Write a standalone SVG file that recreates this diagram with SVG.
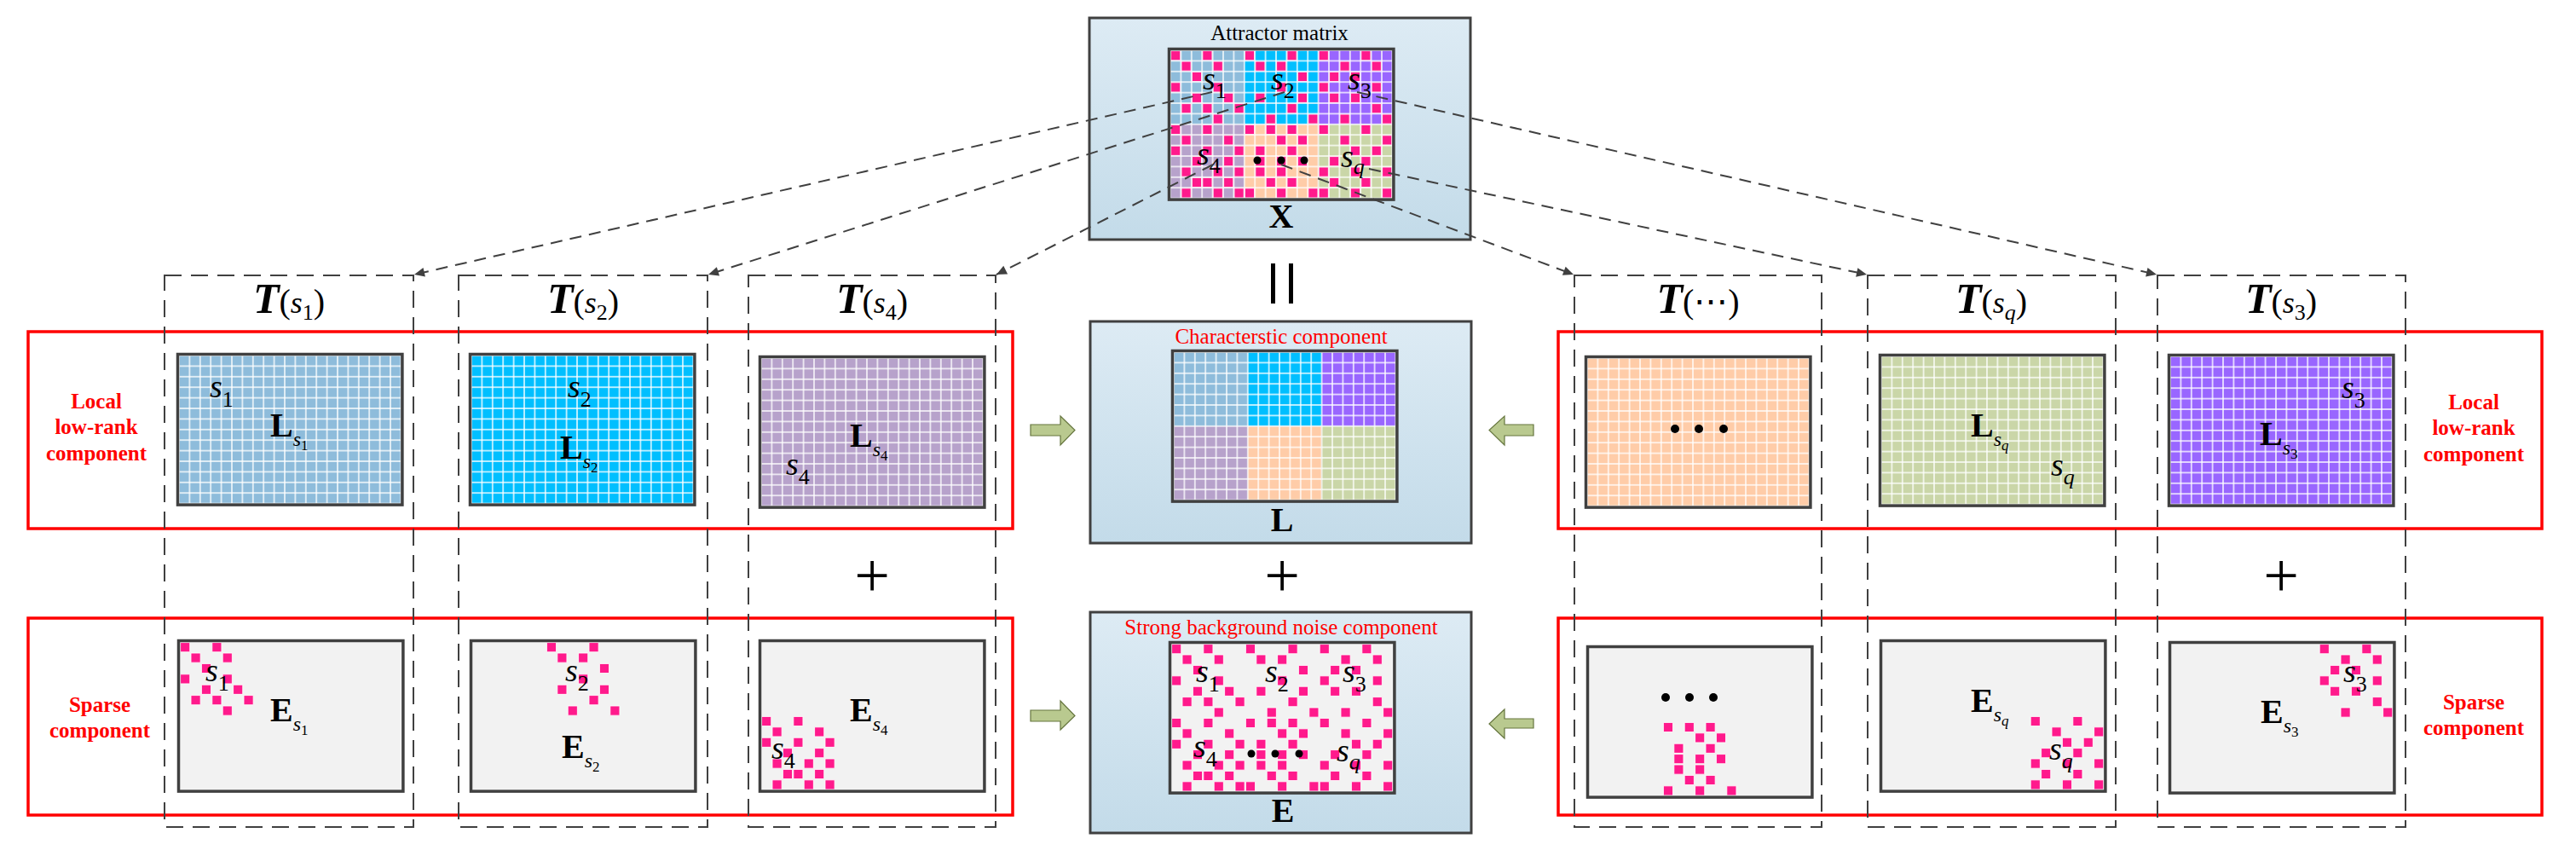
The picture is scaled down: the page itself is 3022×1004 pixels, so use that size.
<svg xmlns="http://www.w3.org/2000/svg" width="3022" height="1004" viewBox="0 0 3022 1004">
<style>
.t{font-family:"Liberation Serif","Times New Roman","DejaVu Serif",serif;fill:#000}
.sv{font-style:italic;font-size:38px}
.sd{font-style:normal;font-size:26px}
.sq{font-style:italic;font-size:26px}
.bm{font-weight:bold;font-size:40px}
.bs{font-style:italic;font-weight:normal;font-size:24px}
.bd{font-style:normal;font-weight:normal;font-size:17px}
.bq{font-style:italic;font-weight:normal;font-size:17px}
.tt{font-size:40px;text-anchor:middle}
.tT{font-style:italic;font-weight:bold;font-size:50px}
.ts{font-style:italic;font-size:36px}
.tsd{font-style:normal;font-size:26px}
.tsq{font-style:italic;font-size:26px}
.rl{fill:#f00;font-weight:bold;font-size:25px;text-anchor:middle}
.ttl{fill:#f00;font-size:25px;text-anchor:middle}
.ttk{font-size:25px;text-anchor:middle}
.pl{font-size:74px;text-anchor:middle}
.panel{fill:url(#bg);stroke:#404040;stroke-width:3}
.fr{fill:none;stroke:#404040;stroke-width:3.5}
.eg{fill:#f2f2f2}
.m{fill:#ff1a8c;stroke:#fff;stroke-width:.07}
.db{fill:none;stroke:#404040;stroke-width:2;stroke-dasharray:20 11}
.rb{fill:none;stroke:#f00;stroke-width:3.5}
.ba{fill:#b9c98f;stroke:#66763f;stroke-width:1.2}
.dot{fill:#000}
</style>
<defs>
<linearGradient id="bg" x1="0" y1="0" x2="0" y2="1"><stop offset="0" stop-color="#ddebf4"/><stop offset="1" stop-color="#c3dbe9"/></linearGradient>
<pattern id="pB" width="12.4" height="12.4" patternUnits="userSpaceOnUse"><rect width="12.4" height="12.4" fill="#fff"/><rect x=".7" y=".7" width="11" height="11" fill="#8ebcdb"/></pattern>
<pattern id="pC" width="12.4" height="12.4" patternUnits="userSpaceOnUse"><rect width="12.4" height="12.4" fill="#fff"/><rect x=".7" y=".7" width="11" height="11" fill="#00bfff"/></pattern>
<pattern id="pP" width="12.4" height="12.4" patternUnits="userSpaceOnUse"><rect width="12.4" height="12.4" fill="#fff"/><rect x=".7" y=".7" width="11" height="11" fill="#9966ff"/></pattern>
<pattern id="pL" width="12.4" height="12.4" patternUnits="userSpaceOnUse"><rect width="12.4" height="12.4" fill="#fff"/><rect x=".7" y=".7" width="11" height="11" fill="#b7a2cb"/></pattern>
<pattern id="pO" width="12.4" height="12.4" patternUnits="userSpaceOnUse"><rect width="12.4" height="12.4" fill="#fff"/><rect x=".7" y=".7" width="11" height="11" fill="#ffcca8"/></pattern>
<pattern id="pG" width="12.4" height="12.4" patternUnits="userSpaceOnUse"><rect width="12.4" height="12.4" fill="#fff"/><rect x=".7" y=".7" width="11" height="11" fill="#cad6a8"/></pattern>
<g id="blocks">
<rect x="0" y="0" width="86.8" height="86.8" fill="url(#pB)"/>
<rect x="86.8" y="0" width="86.8" height="86.8" fill="url(#pC)"/>
<rect x="173.6" y="0" width="86.8" height="86.8" fill="url(#pP)"/>
<rect x="0" y="86.8" width="86.8" height="86.8" fill="url(#pL)"/>
<rect x="86.8" y="86.8" width="86.8" height="86.8" fill="url(#pO)"/>
<rect x="173.6" y="86.8" width="86.8" height="86.8" fill="url(#pG)"/>
</g>
<path id="n1" d="M0 0h.9v.9h-.9zM3 0h.9v.9h-.9zM1 1h.9v.9h-.9zM4 1h.9v.9h-.9zM2 2h.9v.9h-.9zM0 3h.9v.9h-.9zM4 3h.9v.9h-.9zM2 4h.9v.9h-.9zM5 4h.9v.9h-.9zM1 5h.9v.9h-.9zM3 5h.9v.9h-.9zM6 5h.9v.9h-.9zM4 6h.9v.9h-.9z"/>
<path id="n2" d="M7 0h.9v.9h-.9zM11 0h.9v.9h-.9zM8 1h.9v.9h-.9zM10 1h.9v.9h-.9zM12 2h.9v.9h-.9zM10 3h.9v.9h-.9zM8 4h.9v.9h-.9zM12 4h.9v.9h-.9zM11 5h.9v.9h-.9zM9 6h.9v.9h-.9zM13 6h.9v.9h-.9z"/>
<path id="n3" d="M14 0h.9v.9h-.9zM18 0h.9v.9h-.9zM16 1h.9v.9h-.9zM19 1h.9v.9h-.9zM15 2h.9v.9h-.9zM17 2h.9v.9h-.9zM14 3h.9v.9h-.9zM19 3h.9v.9h-.9zM15 4h.9v.9h-.9zM17 4h.9v.9h-.9zM19 5h.9v.9h-.9zM16 6h.9v.9h-.9zM20 6h.9v.9h-.9z"/>
<path id="n4" d="M0 7h.9v.9h-.9zM3 7h.9v.9h-.9zM1 8h.9v.9h-.9zM5 8h.9v.9h-.9zM0 9h.9v.9h-.9zM3 9h.9v.9h-.9zM6 9h.9v.9h-.9zM2 10h.9v.9h-.9zM5 10h.9v.9h-.9zM1 11h.9v.9h-.9zM4 11h.9v.9h-.9zM6 11h.9v.9h-.9zM2 12h.9v.9h-.9zM3 12h.9v.9h-.9zM5 12h.9v.9h-.9zM1 13h.9v.9h-.9zM4 13h.9v.9h-.9zM6 13h.9v.9h-.9z"/>
<path id="n5" d="M7 7h.9v.9h-.9zM9 7h.9v.9h-.9zM11 7h.9v.9h-.9zM10 8h.9v.9h-.9zM12 8h.9v.9h-.9zM8 9h.9v.9h-.9zM11 9h.9v.9h-.9zM8 10h.9v.9h-.9zM10 10h.9v.9h-.9zM12 10h.9v.9h-.9zM8 11h.9v.9h-.9zM10 11h.9v.9h-.9zM9 12h.9v.9h-.9zM11 12h.9v.9h-.9zM7 13h.9v.9h-.9zM10 13h.9v.9h-.9zM13 13h.9v.9h-.9z"/>
<path id="n6" d="M14 7h.9v.9h-.9zM18 7h.9v.9h-.9zM16 8h.9v.9h-.9zM20 8h.9v.9h-.9zM17 9h.9v.9h-.9zM19 9h.9v.9h-.9zM15 10h.9v.9h-.9zM18 10h.9v.9h-.9zM14 11h.9v.9h-.9zM17 11h.9v.9h-.9zM20 11h.9v.9h-.9zM15 12h.9v.9h-.9zM18 12h.9v.9h-.9zM14 13h.9v.9h-.9zM17 13h.9v.9h-.9zM20 13h.9v.9h-.9z"/>
<g id="nall"><use href="#n1"/><use href="#n2"/><use href="#n3"/><use href="#n4"/><use href="#n5"/><use href="#n6"/></g>
<rect id="frame" class="fr" x="-1.5" y="-1.5" width="263.4" height="176.6"/>
<marker id="ah" viewBox="0 0 10 10" refX="10" refY="5" markerWidth="14" markerHeight="12" markerUnits="userSpaceOnUse" orient="auto"><path d="M0 0.5L10 5L0 9.5z" fill="#404040"/></marker>
</defs>
<rect width="3022" height="1004" fill="#fff"/>

<!-- red component frames -->
<g id="red-frames">
<rect class="rb" x="33" y="389" width="1155" height="231"/>
<rect class="rb" x="33" y="725" width="1155" height="231"/>
<rect class="rb" x="1828" y="389" width="1154" height="231"/>
<rect class="rb" x="1828" y="725" width="1154" height="231"/>
<text class="t rl"><tspan x="113" y="479">Local</tspan><tspan x="113" y="509">low-rank</tspan><tspan x="113" y="540">component</tspan></text>
<text class="t rl"><tspan x="2902" y="480">Local</tspan><tspan x="2902" y="510">low-rank</tspan><tspan x="2902" y="541">component</tspan></text>
<text class="t rl"><tspan x="117" y="835">Sparse</tspan><tspan x="117" y="865">component</tspan></text>
<text class="t rl"><tspan x="2902" y="832">Sparse</tspan><tspan x="2902" y="862">component</tspan></text>
</g>

<!-- T(s) columns -->
<g id="T-s1"><rect class="db" x="193" y="323" width="292" height="647"/>
<text class="t tt" x="339" y="367"><tspan class="tT">T</tspan>(<tspan class="ts">s</tspan><tspan class="tsd" dy="8">1</tspan><tspan dy="-8">)</tspan></text></g>
<g id="T-s2"><rect class="db" x="538" y="323" width="292" height="647"/>
<text class="t tt" x="684" y="367"><tspan class="tT">T</tspan>(<tspan class="ts">s</tspan><tspan class="tsd" dy="8">2</tspan><tspan dy="-8">)</tspan></text></g>
<g id="T-s4"><rect class="db" x="878" y="323" width="290" height="647"/>
<text class="t tt" x="1023" y="367"><tspan class="tT">T</tspan>(<tspan class="ts">s</tspan><tspan class="tsd" dy="8">4</tspan><tspan dy="-8">)</tspan></text></g>
<g id="T-dots"><rect class="db" x="1847" y="323" width="290" height="647"/>
<text class="t tt" x="1992" y="367"><tspan class="tT">T</tspan>(⋯)</text></g>
<g id="T-sq"><rect class="db" x="2191" y="323" width="291" height="647"/>
<text class="t tt" x="2336" y="367"><tspan class="tT">T</tspan>(<tspan class="ts">s</tspan><tspan class="tsq" dy="8">q</tspan><tspan dy="-8">)</tspan></text></g>
<g id="T-s3"><rect class="db" x="2531" y="323" width="291" height="647"/>
<text class="t tt" x="2676" y="367"><tspan class="tT">T</tspan>(<tspan class="ts">s</tspan><tspan class="tsd" dy="8">3</tspan><tspan dy="-8">)</tspan></text></g>

<!-- middle panels -->
<g id="X-panel">
<rect class="panel" x="1278" y="21" width="447" height="260"/>
<text class="t ttk" x="1501" y="47">Attractor matrix</text>
<g transform="translate(1373 59)"><use href="#blocks"/><g class="m" transform="translate(.6 .6) scale(12.4)"><use href="#nall"/></g><use href="#frame"/></g>
<text class="t sv" x="1411" y="105">s<tspan class="sd" dy="10">1</tspan></text>
<text class="t sv" x="1491" y="105">s<tspan class="sd" dy="10">2</tspan></text>
<text class="t sv" x="1581" y="105">s<tspan class="sd" dy="10">3</tspan></text>
<text class="t sv" x="1404" y="193">s<tspan class="sd" dy="10">4</tspan></text>
<text class="t sv" x="1573" y="196">s<tspan class="sq" dy="8">q</tspan></text>
<circle class="dot" cx="1475" cy="188" r="4.5"/><circle class="dot" cx="1503" cy="188" r="4.5"/><circle class="dot" cx="1530" cy="188" r="4.5"/>
<text class="t bm" x="1503" y="267" text-anchor="middle">X</text>
</g>

<g id="equals"><rect x="1491" y="309" width="5" height="47" fill="#000"/><rect x="1512" y="309" width="5" height="47" fill="#000"/></g>

<g id="L-panel">
<rect class="panel" x="1279" y="377" width="447" height="260"/>
<text class="t ttl" x="1503" y="403">Characterstic component</text>
<g transform="translate(1377 413)"><use href="#blocks"/><use href="#frame"/></g>
<text class="t bm" x="1504" y="623" text-anchor="middle">L</text>
</g>

<g id="E-panel">
<rect class="panel" x="1279" y="718" width="447" height="259"/>
<text class="t ttl" x="1503" y="744">Strong background noise component</text>
<g transform="translate(1374 755)"><rect class="eg" width="260.4" height="173.6"/><g class="m" transform="translate(.6 .6) scale(12.4)"><use href="#nall"/></g><use href="#frame"/></g>
<text class="t sv" x="1403" y="800">s<tspan class="sd" dy="11">1</tspan></text>
<text class="t sv" x="1484" y="800">s<tspan class="sd" dy="11">2</tspan></text>
<text class="t sv" x="1575" y="800">s<tspan class="sd" dy="11">3</tspan></text>
<text class="t sv" x="1400" y="888">s<tspan class="sd" dy="11">4</tspan></text>
<text class="t sv" x="1568" y="893">s<tspan class="sq" dy="9">q</tspan></text>
<circle class="dot" cx="1468" cy="884" r="4.5"/><circle class="dot" cx="1496" cy="884" r="4.5"/><circle class="dot" cx="1524" cy="884" r="4.5"/>
<text class="t bm" x="1505" y="964" text-anchor="middle">E</text>
</g>

<g id="plus-signs">
<text class="t pl" x="1023" y="700">+</text>
<text class="t pl" x="1504" y="700">+</text>
<text class="t pl" x="2676" y="700">+</text>
</g>

<g id="block-arrows">
<polygon class="ba" points="1209,498 1244,498 1244,488 1261,504.5 1244,522 1244,511 1209,511"/>
<polygon class="ba" points="1799,498 1765,498 1765,488 1747,504.5 1765,522 1765,511 1799,511"/>
<polygon class="ba" points="1209,833 1244,833 1244,822 1261,839.5 1244,856 1244,846 1209,846"/>
<polygon class="ba" points="1799,843 1765,843 1765,832 1747,849 1765,866 1765,854 1799,854"/>
</g>

<!-- local low-rank matrices -->
<g id="L-s1"><g transform="translate(210 417)"><rect width="260.4" height="173.6" fill="url(#pB)"/><use href="#frame"/></g>
<text class="t sv" x="246" y="466">s<tspan class="sd" dy="11">1</tspan></text>
<text class="t bm" x="317" y="512">L<tspan class="bs" dy="11">s</tspan><tspan class="bd" dy="5">1</tspan></text></g>
<g id="L-s2"><g transform="translate(553 417)"><rect width="260.4" height="173.6" fill="url(#pC)"/><use href="#frame"/></g>
<text class="t sv" x="666" y="466">s<tspan class="sd" dy="11">2</tspan></text>
<text class="t bm" x="657" y="538">L<tspan class="bs" dy="11">s</tspan><tspan class="bd" dy="5">2</tspan></text></g>
<g id="L-s4"><g transform="translate(893 420)"><rect width="260.4" height="173.6" fill="url(#pL)"/><use href="#frame"/></g>
<text class="t sv" x="922" y="557">s<tspan class="sd" dy="11">4</tspan></text>
<text class="t bm" x="997" y="524">L<tspan class="bs" dy="11">s</tspan><tspan class="bd" dy="5">4</tspan></text></g>
<g id="L-dots"><g transform="translate(1862 420)"><rect width="260.4" height="173.6" fill="url(#pO)"/><use href="#frame"/></g>
<circle class="dot" cx="1965" cy="503" r="5"/><circle class="dot" cx="1993" cy="503" r="5"/><circle class="dot" cx="2022" cy="503" r="5"/></g>
<g id="L-sq"><g transform="translate(2207 418)"><rect width="260.4" height="173.6" fill="url(#pG)"/><use href="#frame"/></g>
<text class="t sv" x="2406" y="558">s<tspan class="sq" dy="10">q</tspan></text>
<text class="t bm" x="2312" y="512">L<tspan class="bs" dy="11">s</tspan><tspan class="bq" dy="5">q</tspan></text></g>
<g id="L-s3"><g transform="translate(2546 418)"><rect width="260.4" height="173.6" fill="url(#pP)"/><use href="#frame"/></g>
<text class="t sv" x="2747" y="467">s<tspan class="sd" dy="11">3</tspan></text>
<text class="t bm" x="2651" y="522">L<tspan class="bs" dy="11">s</tspan><tspan class="bd" dy="5">3</tspan></text></g>

<!-- sparse matrices -->
<g id="E-s1"><g transform="translate(211 753)"><rect class="eg" width="260.4" height="173.6"/><g class="m" transform="translate(.6 .6) scale(12.4)"><use href="#n1"/></g><use href="#frame"/></g>
<text class="t sv" x="241" y="799">s<tspan class="sd" dy="11">1</tspan></text>
<text class="t bm" x="317" y="846">E<tspan class="bs" dy="11">s</tspan><tspan class="bd" dy="5">1</tspan></text></g>
<g id="E-s2"><g transform="translate(554 753)"><rect class="eg" width="260.4" height="173.6"/><g class="m" transform="translate(.6 .6) scale(12.4)"><use href="#n2"/></g><use href="#frame"/></g>
<text class="t sv" x="663" y="799">s<tspan class="sd" dy="11">2</tspan></text>
<text class="t bm" x="659" y="889">E<tspan class="bs" dy="11">s</tspan><tspan class="bd" dy="5">2</tspan></text></g>
<g id="E-s4"><g transform="translate(893 753)"><rect class="eg" width="260.4" height="173.6"/><g class="m" transform="translate(.6 .6) scale(12.4)"><use href="#n4"/></g><use href="#frame"/></g>
<text class="t sv" x="905" y="890">s<tspan class="sd" dy="11">4</tspan></text>
<text class="t bm" x="997" y="846">E<tspan class="bs" dy="11">s</tspan><tspan class="bd" dy="5">4</tspan></text></g>
<g id="E-dots"><g transform="translate(1864 760)"><rect class="eg" width="260.4" height="173.6"/><g class="m" transform="translate(.6 .6) scale(12.4)"><use href="#n5"/></g><use href="#frame"/></g>
<circle class="dot" cx="1954" cy="818" r="5"/><circle class="dot" cx="1982" cy="818" r="5"/><circle class="dot" cx="2010" cy="818" r="5"/></g>
<g id="E-sq"><g transform="translate(2208 753)"><rect class="eg" width="260.4" height="173.6"/><g class="m" transform="translate(.6 .6) scale(12.4)"><use href="#n6"/></g><use href="#frame"/></g>
<text class="t sv" x="2404" y="891">s<tspan class="sq" dy="10">q</tspan></text>
<text class="t bm" x="2312" y="835">E<tspan class="bs" dy="11">s</tspan><tspan class="bq" dy="5">q</tspan></text></g>
<g id="E-s3"><g transform="translate(2547 755)"><rect class="eg" width="260.4" height="173.6"/><g class="m" transform="translate(.6 .6) scale(12.4)"><use href="#n3"/></g><use href="#frame"/></g>
<text class="t sv" x="2749" y="800">s<tspan class="sd" dy="11">3</tspan></text>
<text class="t bm" x="2652" y="848">E<tspan class="bs" dy="11">s</tspan><tspan class="bd" dy="5">3</tspan></text></g>

<!-- connectors -->
<g id="connectors" fill="none" stroke="#404040" stroke-width="2" stroke-dasharray="14 9" marker-end="url(#ah)">
<line x1="1422" y1="108" x2="486" y2="322"/>
<line x1="1507" y1="108" x2="831" y2="322"/>
<line x1="1423" y1="193" x2="1169" y2="322"/>
<line x1="1503" y1="193" x2="1846" y2="322"/>
<line x1="1606" y1="198" x2="2190" y2="322"/>
<line x1="1592" y1="108" x2="2530" y2="322"/>
</g>
</svg>
